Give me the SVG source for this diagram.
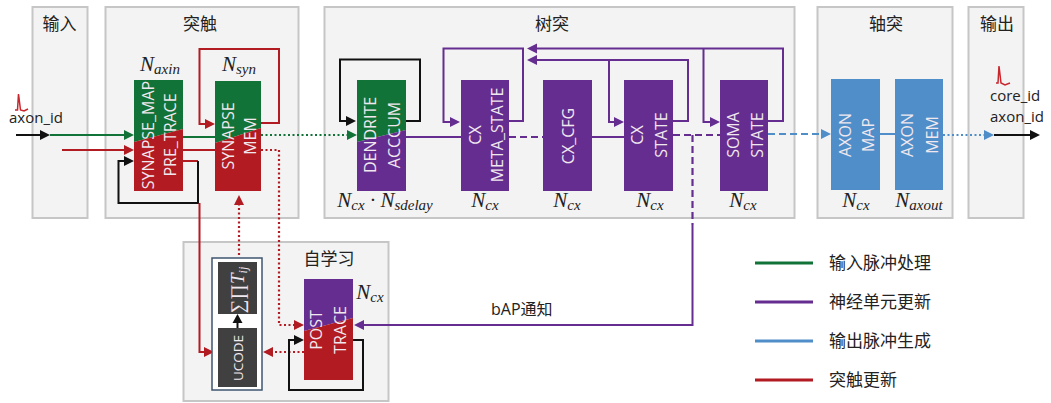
<svg xmlns="http://www.w3.org/2000/svg" width="1051" height="403" viewBox="0 0 1051 403">
<style>
.panel{fill:#f3f3f3;stroke:#c6c6c6;stroke-width:2}
.t{font-family:"Noto Sans CJK SC","Noto Sans",sans-serif;font-size:17px;fill:#222;text-anchor:middle}
.l{font-family:"Noto Sans CJK SC","Noto Sans",sans-serif;font-size:17px;fill:#222}
.e{font-family:"Open Sans","Noto Sans CJK SC",sans-serif;font-size:15px;fill:#222}
.w{font-family:"Open Sans","Noto Sans",sans-serif;font-size:16px;fill:#f0e8ee;text-anchor:middle}
.u{font-size:13.500px}
.s{font-family:"Liberation Serif",serif;font-style:italic;font-size:19px}
.s tspan{font-size:12px}
.n{font-family:"Liberation Serif",serif;font-style:italic;font-size:21px;fill:#222;text-anchor:middle}
.n tspan{font-size:15px}
.g{fill:#127338}.r{fill:#b11b21}.p{fill:#652d90}.b{fill:#4f8ec9}.d{fill:#404040}
.c{fill:none;stroke-width:2}
.green{stroke:#127338}.red{stroke:#b11b21}.pur{stroke:#652d90}.blu{stroke:#4f8ec9}.blk{stroke:#111}
.dot{stroke-dasharray:2 2.500;stroke-width:2.200}.dash{stroke-dasharray:7 4;stroke-width:2.200}
.leg{stroke-width:3}
.ag{fill:#127338}.ar{fill:#b11b21}.ap{fill:#652d90}.ab{fill:#4f8ec9}.ak{fill:#111}
.sp{fill:none;stroke:#c8262c;stroke-width:1.500}
</style>
<g id="panels">
<g id="panel-input"><rect class="panel" x="32.500" y="7" width="55" height="211"/><text class="t" x="59.500" y="30">输入</text></g>
<g id="panel-synapse"><rect class="panel" x="105.500" y="7" width="193" height="211"/><text class="t" x="200" y="30">突触</text></g>
<g id="panel-dendrite"><rect class="panel" x="324.500" y="7" width="470" height="211"/><text class="t" x="552" y="30">树突</text></g>
<g id="panel-axon"><rect class="panel" x="817.500" y="7" width="135" height="211"/><text class="t" x="886" y="30">轴突</text></g>
<g id="panel-output"><rect class="panel" x="968.500" y="7" width="55" height="211"/><text class="t" x="997" y="30">输出</text></g>
<g id="panel-learning"><rect class="panel" x="183.500" y="242" width="205" height="159"/><text class="t" x="329" y="265">自学习</text></g>
</g>
<g id="connectors">
<path class="c blk" d="M16 135H42"/><path class="ak" d="M50 135l-10 -5v10z"/>
<path class="c green" d="M50 135H125"/><path class="ag" d="M134 135l-10 -5v10z"/>
<path class="c red" d="M62 150H125"/><path class="ar" d="M134 150l-10 -5v10z"/>
<path class="c red" d="M183 161H198"/>
<path class="c blk" d="M198 161V203H118.500V161H125"/><path class="ak" d="M134 161l-10 -5v10z"/>
<path class="c green" d="M183 137H215"/>
<path class="c red" d="M183 150H215"/>
<path class="c red" d="M261 123H279V49H199.500V124H205"/><path class="ar" d="M215 124l-10 -5v10z"/>
<path class="c green dot" d="M261 135H348"/><path class="ag" d="M357 135l-10 -5v10z"/>
<path class="c red dot" d="M261 150H279V325H295"/><path class="ar" d="M304 325l-10 -5v10z"/>
<path class="c red" d="M199.500 203V352H205"/><path class="ar" d="M214 352l-10 -5v10z"/>
<path class="c red dot" d="M239 255V204"/><path class="ar" d="M239 195l-5 10h10z"/>
<path class="c blk" d="M406 121H420V59.500H340V121H346"/><path class="ak" d="M356 121l-10 -5v10z"/>
<path class="c pur" d="M406 137H461"/>
<path class="c pur" d="M509 121H523V48.500H443.500V122H451"/><path class="ap" d="M460 122l-10 -5v10z"/>
<path class="c pur dash" d="M509 137H543"/>
<path class="c pur" d="M592 137H624"/>
<path class="c pur" d="M673 121H688V60H536"/><path class="ap" d="M527 60l10 -5v10z"/>
<path class="c pur" d="M609 60V122H615"/><path class="ap" d="M624 122l-10 -5v10z"/>
<path class="c pur" d="M768 121H783V48.500H536"/><path class="ap" d="M527 48.500l10 -5v10z"/>
<path class="c pur" d="M703.500 48.500V122H711"/><path class="ap" d="M720 122l-10 -5v10z"/>
<path class="c pur dash" d="M673 135H720"/>
<path class="c pur dash" d="M692.500 135V225"/>
<path class="c pur" d="M692.500 225V325H363"/><path class="ap" d="M354 325l10 -5v10z"/>
<path class="c blu dash" d="M768 134H822"/><path class="ab" d="M831 134l-10 -5v10z"/>
<path class="c blu" d="M880 134H895"/>
<path class="c blu dot" d="M943 135H985"/><path class="ab" d="M994 135l-10 -5v10z"/>
<path class="c blk" d="M994 135H1032"/><path class="ak" d="M1040 135l-10 -5v10z"/>
<path class="c red dot" d="M304 352H271"/><path class="ar" d="M263 352l10 -5v10z"/>
<path class="c blk" d="M353 340H363V390H289V340H295"/><path class="ak" d="M304 340l-10 -5v10z"/>
</g>
<g id="node-synapse-map"><polygon class="g" points="134,80 183,80 183,129 134,142"/><polygon class="r" points="134,142 183,129 183,191 134,191"/>
<text class="n" x="160" y="71">N<tspan dy="3">axin</tspan></text>
<text class="w" transform="translate(154 135) rotate(-90)">SYNAPSE_MAP</text><text class="w" transform="translate(176 135) rotate(-90)">PRE_TRACE</text></g>
<g id="node-synapse-mem"><polygon class="g" points="215,81 261,81 261,128 215,143"/><polygon class="r" points="215,143 261,128 261,191 215,191"/>
<text class="n" x="239" y="71">N<tspan dy="3">syn</tspan></text>
<text class="w" transform="translate(234 136) rotate(-90)">SYNAPSE</text><text class="w" transform="translate(256 136) rotate(-90)">MEM</text></g>
<g id="node-dendrite"><polygon class="g" points="357,80 406,80 406,130 357,142"/><polygon class="p" points="357,142 406,130 406,191 357,191"/>
<text class="w" transform="translate(376 135) rotate(-90)">DENDRITE</text><text class="w" transform="translate(400 135) rotate(-90)">ACCCUM</text>
<text class="n" x="385" y="207">N<tspan dy="3">cx</tspan><tspan dy="-3" style="font-size:21px"> · N</tspan><tspan dy="3">sdelay</tspan></text></g>
<g id="node-meta"><rect class="p" x="461" y="80" width="48" height="111"/><text class="w" transform="translate(481 135) rotate(-90)">CX</text><text class="w" transform="translate(503 135) rotate(-90)">META_STATE</text><text class="n" x="485" y="207">N<tspan dy="3">cx</tspan></text></g>
<g id="node-cfg"><rect class="p" x="543" y="80" width="49" height="111"/><text class="w" transform="translate(574 136) rotate(-90)">CX_CFG</text><text class="n" x="567" y="207">N<tspan dy="3">cx</tspan></text></g>
<g id="node-cx-state"><rect class="p" x="624" y="80" width="49" height="111"/><text class="w" transform="translate(643 135) rotate(-90)">CX</text><text class="w" transform="translate(667 135) rotate(-90)">STATE</text><text class="n" x="650" y="207">N<tspan dy="3">cx</tspan></text></g>
<g id="node-soma"><rect class="p" x="720" y="80" width="48" height="111"/><text class="w" transform="translate(739 135) rotate(-90)">SOMA</text><text class="w" transform="translate(763 135) rotate(-90)">STATE</text><text class="n" x="743" y="207">N<tspan dy="3">cx</tspan></text></g>
<g id="node-axon-map"><rect class="b" x="831" y="79" width="49" height="111"/><text class="w" transform="translate(851 135) rotate(-90)">AXON</text><text class="w" transform="translate(874 135) rotate(-90)">MAP</text><text class="n" x="856" y="207">N<tspan dy="3">cx</tspan></text></g>
<g id="node-axon-mem"><rect class="b" x="895" y="79" width="48" height="111"/><text class="w" transform="translate(913 135) rotate(-90)">AXON</text><text class="w" transform="translate(938 135) rotate(-90)">MEM</text><text class="n" x="919" y="207">N<tspan dy="3">axout</tspan></text></g>
<g id="node-ucode"><rect x="212" y="258" width="50" height="132" fill="#fff" stroke="#3f5570" stroke-width="1.500"/>
<rect class="d" x="218" y="262" width="39" height="52"/><rect class="d" x="218" y="328" width="39" height="59"/>
<text class="w u" transform="translate(243 358) rotate(-90)">UCODE</text>
<text class="w s" transform="translate(244 290) rotate(-90)">∑∏T<tspan dy="3">ij</tspan></text>
<path class="c blk" d="M237.500 328V320"/><path class="ak" d="M237.500 314l-5 9h10z"/></g>
<g id="node-post"><polygon class="p" points="304,279 353,279 353,318 304,331"/><polygon class="r" points="304,331 353,318 353,380 304,380"/>
<text class="w" transform="translate(322 330) rotate(-90)">POST</text><text class="w" transform="translate(346 330) rotate(-90)">TRACE</text>
<text class="n" x="370" y="299">N<tspan dy="3">cx</tspan></text></g>
<g id="labels">
<path class="sp" d="M15 110H17.500L18.500 94L20.500 110L24 111L28 109"/>
<text class="e" x="9" y="123">axon_id</text>
<path class="sp" d="M996 83H998L999 66L1001 83L1005 85L1010 83"/>
<text class="e" x="990" y="101">core_id</text><text class="e" x="990" y="122">axon_id</text>
<text class="e" style="font-size:16px" x="491" y="315">bAP通知</text>
</g>
<g id="legend">
<path class="c green leg" d="M755 263H813"/><text class="l" x="829" y="269">输入脉冲处理</text>
<path class="c pur leg" d="M755 302H813"/><text class="l" x="829" y="308">神经单元更新</text>
<path class="c blu leg" d="M755 341H813"/><text class="l" x="829" y="347">输出脉冲生成</text>
<path class="c red leg" d="M755 380H813"/><text class="l" x="829" y="386">突触更新</text>
</g>
</svg>
